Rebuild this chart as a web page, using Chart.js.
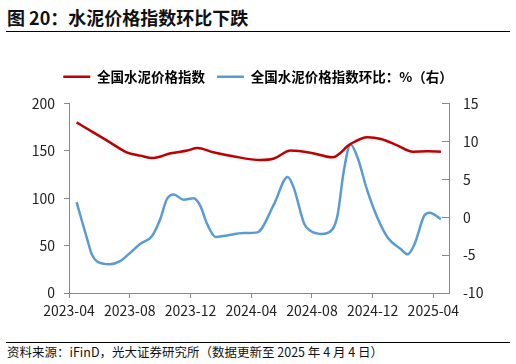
<!DOCTYPE html>
<html lang="zh-CN">
<head>
    <meta charset="UTF-8">
    <title>水泥价格指数环比下跌</title>
    <script src="https://cdn.jsdelivr.net/npm/chart.js"></script>
    <style>
        body {
            margin: 0;
            width: 516px;
            height: 364px;
            background: #fff;
            font-family: "Noto Sans CJK SC", "Noto Sans", sans-serif;
            position: relative;
            overflow: hidden;
        }
        .title {
            position: absolute;
            left: 7px;
            top: 4px;
            font-size: 18px;
            font-weight: bold;
            line-height: 26px;
            color: #111;
        }
        .rule {
            position: absolute;
            left: 6px;
            width: 504px;
            height: 0;
            border-top: 1px solid #000;
        }
        .source {
            position: absolute;
            left: 7px;
            top: 343px;
            font-size: 12.5px;
            line-height: 18px;
            color: #111;
        }
        .chart-box {
            position: absolute;
            left: 0;
            top: 58px;
            width: 516px;
            height: 276px;
        }
    </style>
</head>
<body>

    <div class="title">图 20：水泥价格指数环比下跌</div>
    <div class="rule" style="top:31px"></div>

    <div class="chart-box">
        <canvas id="cementChart"></canvas>
    </div>

    <div class="rule" style="top:342px"></div>
    <div class="source">资料来源：iFinD，光大证券研究所（数据更新至 2025 年 4 月 4 日）</div>

    <script>
        // months counted from 2023-04
        const xTickLabels = ['2023-04', '2023-08', '2023-12', '2024-04', '2024-08', '2024-12', '2025-04'];

        const indexMonths = [0.5, 1.6, 2.7, 3.8, 4.7, 5.55, 6.7, 7.8, 8.45, 9.5, 10.8, 12.6, 13.5, 14.6, 15.9, 17.35, 18.55, 19.65, 20.55, 21.65, 22.65, 23.6, 24.5];
        const indexValues = [180, 169.6, 159, 148.5, 145, 142.5, 147.4, 150.3, 153, 148.5, 144.3, 140.4, 142, 150.3, 148.1, 143.2, 157.3, 164.4, 162.6, 155.6, 149.2, 149.5, 149.2];

        const momMonths = [0.5, 0.85, 1.17, 1.5, 1.83, 2.7, 3.37, 4.03, 4.7, 5.46, 6.0, 6.45, 6.9, 7.55, 8.2, 8.65, 9.1, 9.65, 10.4, 11.5, 12.4, 13.5, 14.4, 14.8, 15.5, 15.9, 16.6, 17.35, 17.7, 18.1, 18.55, 19.0, 19.65, 20.3, 21.0, 21.85, 22.3, 22.75, 23.4, 23.75, 24.5];
        const momValues = [2.0, -0.5, -2.7, -4.9, -5.8, -6.2, -5.8, -4.7, -3.5, -2.5, -0.3, 2.4, 3.0, 2.3, 2.5, 1.5, -0.9, -2.6, -2.4, -2.1, -2.0, 1.7, 5.3, 3.9, -0.9, -1.8, -2.2, -1.6, 0.4, 6.1, 9.6, 7.9, 3.5, 0.0, -2.7, -4.2, -4.9, -3.6, 0.2, 0.6, -0.25];

        const toPoints = (xs, ys) => xs.map((x, i) => ({ x: x, y: ys[i] }));

        const axisGray = '#898989';
        const tickFont = { family: '"Noto Sans CJK SC", "Noto Sans", sans-serif', size: 14 };

        const legendLabels = chart =>
            Chart.defaults.plugins.legend.labels.generateLabels(chart).map(l => ({ ...l, lineWidth: 0 }));

        // extra room between legend and plot
        const legendGap = {
            id: 'legendGap',
            beforeInit(chart) {
                const fit = chart.legend.fit;
                chart.legend.fit = function () {
                    fit.call(this);
                    this.height += 10;
                };
            }
        };

        new Chart(document.getElementById('cementChart'), {
            type: 'line',
            data: {
                datasets: [{
                    label: '全国水泥价格指数',
                    data: toPoints(indexMonths, indexValues),
                    borderColor: '#c00000',
                    backgroundColor: '#c00000',
                    borderWidth: 2.5,
                    pointRadius: 0,
                    cubicInterpolationMode: 'monotone',
                    yAxisID: 'y'
                }, {
                    label: '全国水泥价格指数环比：%（右）',
                    data: toPoints(momMonths, momValues),
                    borderColor: '#5b9bd5',
                    backgroundColor: '#5b9bd5',
                    borderWidth: 2.5,
                    pointRadius: 0,
                    cubicInterpolationMode: 'monotone',
                    yAxisID: 'y1'
                }]
            },
            plugins: [legendGap],
            options: {
                responsive: true,
                maintainAspectRatio: false,
                animation: false,
                layout: { padding: 0 },
                plugins: {
                    tooltip: { enabled: false },
                    legend: {
                        position: 'top',
                        labels: {
                            boxWidth: 27,
                            boxHeight: 2.5,
                            padding: 12,
                            color: '#000',
                            font: { family: '"Noto Sans CJK SC", sans-serif', size: 13.5, weight: 'bold' },
                            generateLabels: legendLabels
                        }
                    }
                },
                scales: {
                    x: {
                        type: 'linear',
                        min: 0,
                        max: 25.03,
                        afterBuildTicks: axis => {
                            axis.ticks = xTickLabels.map((_, i) => ({ value: i * 4 }));
                        },
                        afterFit: axis => { axis.height = 41; },
                        ticks: {
                            color: '#222',
                            font: tickFont,
                            padding: 4,
                            maxRotation: 0,
                            autoSkip: false,
                            callback: v => xTickLabels[v / 4]
                        },
                        grid: { drawOnChartArea: false, drawTicks: true, tickLength: 5, color: axisGray },
                        border: { color: axisGray }
                    },
                    y: {
                        position: 'left',
                        min: 0,
                        max: 200,
                        afterFit: axis => { axis.width = 69; },
                        ticks: { stepSize: 50, color: '#222', font: tickFont, padding: 9 },
                        grid: { drawOnChartArea: false, drawTicks: true, tickLength: 5, color: axisGray },
                        border: { color: axisGray }
                    },
                    y1: {
                        position: 'right',
                        min: -10,
                        max: 15,
                        afterFit: axis => { axis.width = 67; },
                        ticks: { stepSize: 5, color: '#222', font: tickFont, padding: 21 },
                        grid: { drawOnChartArea: false, drawTicks: true, tickLength: -7, color: axisGray },
                        border: { color: axisGray }
                    }
                }
            }
        });
    </script>

</body>
</html>
